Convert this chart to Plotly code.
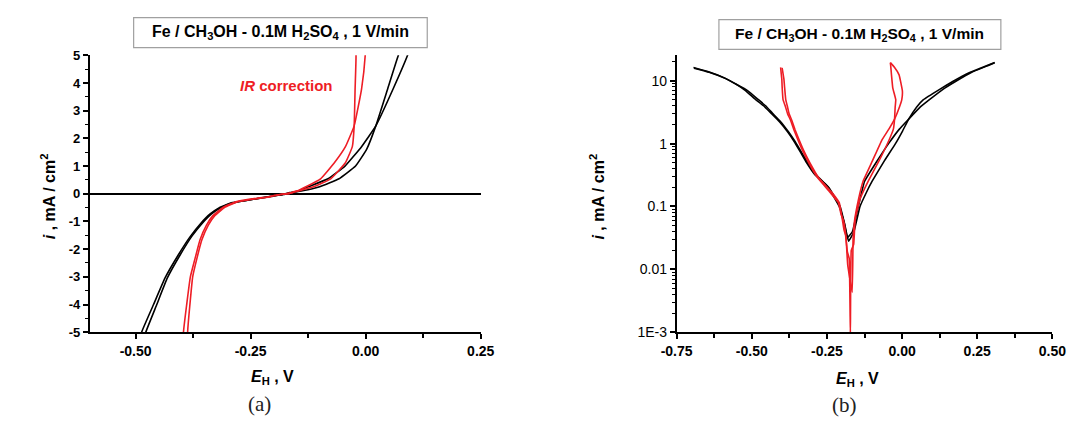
import plotly.graph_objects as go

# Potentiodynamic polarisation of Fe in CH3OH - 0.1M H2SO4 (1 V/min)
# Two scans without correction (black) and the same scans after IR correction (red).
# Potential E_H in V, current density i in mA/cm^2 (signed).

black_scan1_E = [-0.694, -0.644, -0.589, -0.554, -0.522, -0.487, -0.461, -0.436, -0.408, -0.381,
                 -0.359, -0.338, -0.318, -0.290, -0.248, -0.209, -0.193, -0.182, -0.165, -0.148,
                 -0.125, -0.082, -0.045, -0.009, 0.022, 0.060, 0.091, 0.136, 0.179, 0.230,
                 0.287, 0.308]
black_scan1_i = [-16.2, -13.9, -11.0, -8.9, -7.0, -5.0, -4.0, -3.04, -2.23, -1.54,
                 -1.08, -0.73, -0.50, -0.32, -0.21, -0.10, -0.056, -0.032, 0.04, 0.09,
                 0.25, 0.54, 1.00, 1.70, 2.45, 3.80, 5.0, 7.3, 9.8, 13.5,
                 17.5, 19.3]

black_scan2_E = [-0.692, -0.642, -0.587, -0.550, -0.513, -0.478, -0.454, -0.431, -0.404, -0.378,
                 -0.356, -0.335, -0.314, -0.286, -0.244, -0.206, -0.190, -0.178, -0.160, -0.140,
                 -0.118, -0.100, -0.058, -0.022, 0.002, 0.022, 0.048, 0.071, 0.125, 0.170,
                 0.225, 0.283, 0.308]
black_scan2_i = [-15.8, -13.6, -10.8, -8.7, -6.9, -5.0, -4.0, -3.04, -2.23, -1.54,
                 -1.08, -0.73, -0.50, -0.32, -0.20, -0.10, -0.05, -0.028, 0.04, 0.10,
                 0.17, 0.25, 0.54, 1.00, 1.60, 2.45, 3.80, 5.0, 7.3, 9.8,
                 13.5, 17.5, 19.5]

red_scan1_E = [-0.404, -0.402, -0.400, -0.399, -0.396, -0.389, -0.381, -0.371, -0.360, -0.346,
               -0.332, -0.311, -0.282, -0.236, -0.212, -0.203, -0.195, -0.190, -0.186, -0.181,
               -0.166, -0.163, -0.158, -0.145, -0.130, -0.098, -0.068, -0.044, -0.025, -0.009,
               -0.001, 0.001, -0.010, -0.026, -0.039]
red_scan1_i = [-16.3, -13.0, -10.5, -8.0, -5.0, -4.0, -3.0, -2.35, -1.66, -1.13,
               -0.79, -0.50, -0.29, -0.16, -0.115, -0.075, -0.06, -0.045, -0.03, -0.012,
               0.0043, 0.03, 0.06, 0.13, 0.25, 0.54, 1.12, 1.70, 2.45, 3.78,
               5.0, 6.9, 12.4, 16.5, 19.4]

red_scan2_E = [-0.399, -0.396, -0.393, -0.391, -0.387, -0.382, -0.376, -0.367, -0.356, -0.342,
               -0.328, -0.307, -0.278, -0.230, -0.209, -0.199, -0.193, -0.188, -0.182, -0.176,
               -0.172, -0.169, -0.161, -0.156, -0.140, -0.113, -0.076, -0.044, -0.029, -0.025,
               -0.023, -0.021, -0.031, -0.035, -0.038, -0.039]
red_scan2_i = [-16.0, -13.0, -10.5, -8.0, -5.0, -4.0, -3.0, -2.35, -1.66, -1.13,
               -0.79, -0.50, -0.29, -0.16, -0.115, -0.063, -0.042, -0.035, -0.019, -0.015,
               -0.00095, 0.02, 0.025, 0.063, 0.13, 0.25, 0.54, 1.12, 1.70, 2.45,
               3.78, 5.0, 7.7, 12.0, 17.5, 19.4]

# Tick labels
lin_x_vals = [-0.5, -0.25, 0.0, 0.25]
lin_x_text = ["-0.50", "-0.25", "0.00", "0.25"]
lin_y_vals = [-5, -4, -3, -2, -1, 0, 1, 2, 3, 4, 5]
lin_y_text = ["-5", "-4", "-3", "-2", "-1", "0", "1", "2", "3", "4", "5"]
log_x_vals = [-0.75, -0.5, -0.25, 0.0, 0.25, 0.5]
log_x_text = ["-0.75", "-0.50", "-0.25", "0.00", "0.25", "0.50"]
log_y_vals = [0.001, 0.01, 0.1, 1, 10]
log_y_text = ["1E-3", "0.01", "0.1", "1", "10"]

TITLE = "<b>Fe / CH<sub>3</sub>OH - 0.1M H<sub>2</sub>SO<sub>4</sub> , 1 V/min</b>"
BLACK = "#000000"
RED = "#ee1d25"
W, H = 1080, 430


def bold(labels):
    return ["<b>%s</b>" % t for t in labels]


curves = [
    (black_scan1_E, black_scan1_i, BLACK),
    (black_scan2_E, black_scan2_i, BLACK),
    (red_scan1_E, red_scan1_i, RED),
    (red_scan2_E, red_scan2_i, RED),
]

fig = go.Figure()
for E, i, color in curves:
    # (a) linear current density
    fig.add_trace(go.Scatter(x=E, y=i, mode="lines", xaxis="x", yaxis="y",
                             line=dict(color=color, width=1.6, shape="spline", smoothing=0.35),
                             hoverinfo="skip"))
    # (b) absolute current density on a log scale
    fig.add_trace(go.Scatter(x=E, y=[abs(v) for v in i], mode="lines", xaxis="x2", yaxis="y2",
                             line=dict(color=color, width=1.6, shape="spline", smoothing=0.3),
                             hoverinfo="skip"))


def px_x(p):
    return p / W


def px_y(p):
    return 1 - p / H


axis_common = dict(showline=True, linecolor="black", linewidth=1.5, ticks="outside",
                   ticklen=5, tickwidth=1.5, tickcolor="black", showgrid=False, mirror=False)

minor_log = [k * 10.0 ** e for e in range(-3, 2) for k in range(2, 10)]
minor_lin = dict(ticks="outside", dtick=0.125, tick0=0, ticklen=4, tickwidth=1.5,
                 tickcolor="black")

fig.update_layout(
    width=W, height=H, margin=dict(l=0, r=0, t=0, b=0),
    paper_bgcolor="white", plot_bgcolor="white", showlegend=False,
    font=dict(family="Liberation Sans, Arial, sans-serif", color="black"),
    xaxis=dict(domain=[px_x(75.7), px_x(478)], anchor="y", range=[-0.6, 0.25],
               tickmode="array", tickvals=lin_x_vals, ticktext=bold(lin_x_text),
               tickfont=dict(size=14), minor=minor_lin, zeroline=False, **axis_common),
    yaxis=dict(domain=[px_y(337), px_y(50)], anchor="x", range=[-5, 5],
               tickmode="array", tickvals=lin_y_vals, ticktext=bold(lin_y_text),
               tickfont=dict(size=13),
               minor=dict(ticks="outside", dtick=0.5, tick0=0, ticklen=3, tickwidth=1.2,
                          tickcolor="black"),
               zeroline=True, zerolinecolor="black", zerolinewidth=1.5, **axis_common),
    xaxis2=dict(domain=[px_x(679.5), px_x(1066)], anchor="y2", range=[-0.75, 0.5],
                tickmode="array", tickvals=log_x_vals, ticktext=bold(log_x_text),
                tickfont=dict(size=14), minor=minor_lin, zeroline=False, **axis_common),
    yaxis2=dict(domain=[px_y(337), px_y(50)], anchor="x2", type="log", range=[-3, 1.405],
                tickmode="array", tickvals=log_y_vals, ticktext=log_y_text,
                tickfont=dict(size=14),
                minor=dict(ticks="outside", tickmode="array", tickvals=minor_log, ticklen=3,
                           tickwidth=1, tickcolor="black"),
                zeroline=False, **axis_common),
)

# Title boxes
for x0, x1, y0, y1 in [(121, 423, 11, 42), (723, 1013, 13, 44)]:
    fig.add_shape(type="rect", xref="paper", yref="paper",
                  x0=px_x(x0), x1=px_x(x1), y0=px_y(y1), y1=px_y(y0),
                  line=dict(color="#a0a0a0", width=1.2), fillcolor="white", layer="above")

annotations = [
    dict(text=TITLE, x=px_x(272), y=px_y(26.5), font=dict(size=16)),
    dict(text=TITLE, x=px_x(868), y=px_y(28.5), font=dict(size=15.5)),
    dict(text="<b><i>IR</i> correction</b>", x=px_x(278), y=px_y(81),
         font=dict(size=15, color=RED)),
    dict(text="<b><i>i</i> , mA / cm<sup>2</sup></b>", x=px_x(33), y=px_y(196),
         textangle=-90, font=dict(size=16)),
    dict(text="<b><i>i</i> , mA / cm<sup>2</sup></b>", x=px_x(598), y=px_y(196),
         textangle=-90, font=dict(size=16)),
    dict(text="<b><i>E</i><sub>H</sub> , V</b>", x=px_x(264), y=px_y(384), font=dict(size=16)),
    dict(text="<b><i>E</i><sub>H</sub> , V</b>", x=px_x(866), y=px_y(386), font=dict(size=16)),
    dict(text="(a)", x=px_x(250), y=px_y(411),
         font=dict(size=21, family="Liberation Serif, Times New Roman, serif", color="#222")),
    dict(text="(b)", x=px_x(852), y=px_y(412),
         font=dict(size=21, family="Liberation Serif, Times New Roman, serif", color="#222")),
]
for a in annotations:
    fig.add_annotation(xref="paper", yref="paper", showarrow=False,
                       xanchor="center", yanchor="middle", **a)

fig.write_html("out.html")
